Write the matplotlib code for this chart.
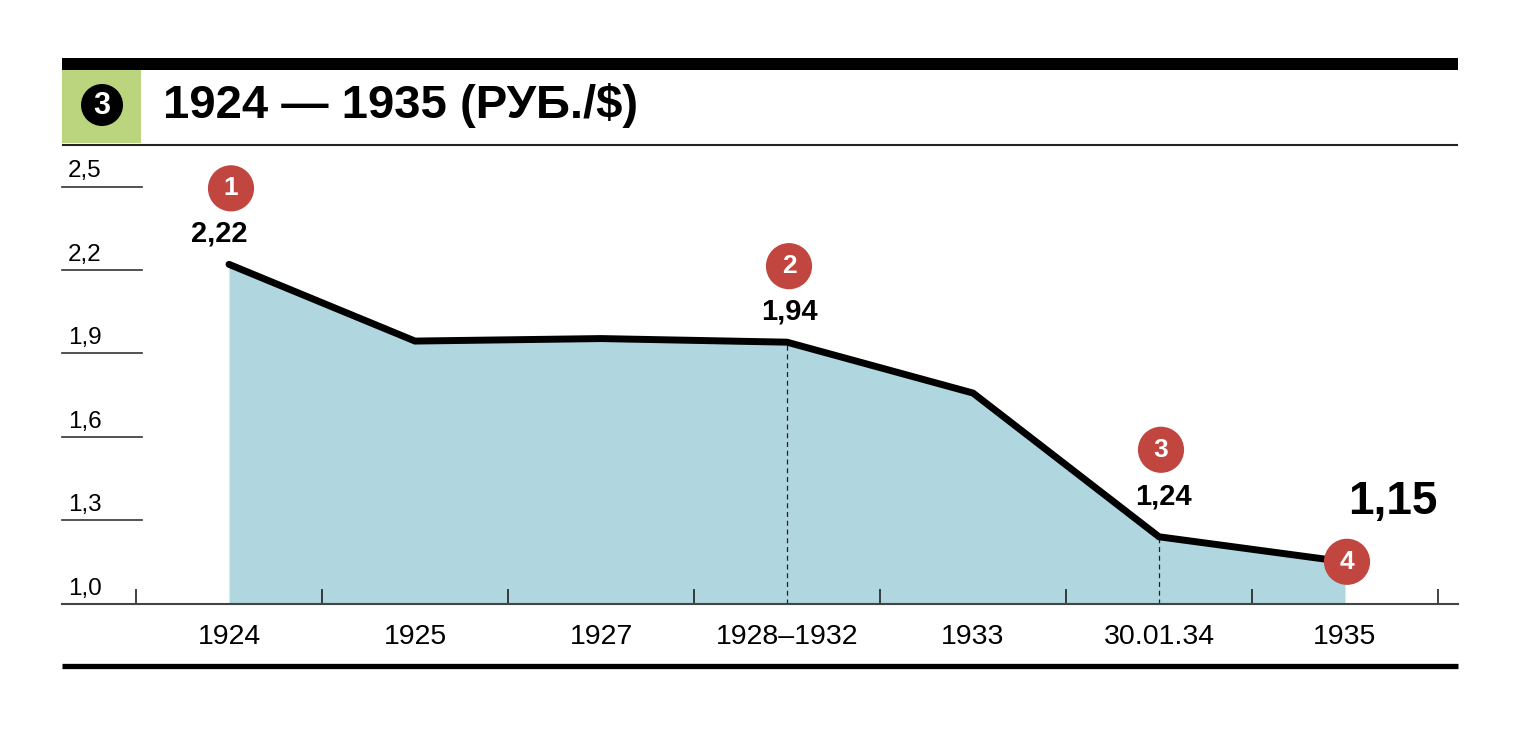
import matplotlib
matplotlib.use("Agg")
import matplotlib.pyplot as plt
from matplotlib.patches import Rectangle, Circle

# ---- data ----
categories = ["1924", "1925", "1927", "1928\u20131932", "1933", "30.01.34", "1935"]
rates = [2.22, 1.944, 1.953, 1.94, 1.757, 1.24, 1.15]
y_ticks = [1.0, 1.3, 1.6, 1.9, 2.2, 2.5]
y_tick_labels = ["1,0", "1,3", "1,6", "1,9", "2,2", "2,5"]
value_labels = {0: "2,22", 3: "1,94", 5: "1,24"}
marker_numbers = {0: "1", 3: "2", 5: "3", 6: "4"}
dashed_idx = [3, 5]
title = "1924 \u2014 1935 (\u0420\u0423\u0411./$)"
final_label = "1,15"

W, H = 1528, 755
fig = plt.figure(figsize=(W / 100, H / 100), dpi=100)
fig.patch.set_facecolor("white")
plt.rcParams["font.family"] = ["Liberation Sans", "DejaVu Sans"]

BLUE = "#b0d6e0"
RED = "#c1463f"
GREEN = "#bad57d"

# overlay axes in pixel coords for decorations
ov = fig.add_axes([0, 0, 1, 1], zorder=0)
ov.set_xlim(0, W)
ov.set_ylim(H, 0)
ov.axis("off")
ov.add_patch(Rectangle((62, 58), 1396, 12, color="black", lw=0))
ov.add_patch(Rectangle((62, 70), 79, 73, color=GREEN, lw=0))
ov.plot([62, 1458], [144.5, 144.5], color="#222222", lw=1.5, solid_capstyle="butt")
ov.plot([62, 1458], [666, 666], color="black", lw=3.8, solid_capstyle="butt")
ov.add_patch(Circle((102, 105), 21, color="black", lw=0))
ov.text(102, 106, "3", color="white", fontsize=22, fontweight="bold",
        ha="center", va="center")
ov.text(163, 106, title, fontsize=34, fontweight="bold", ha="left", va="center")

# main axes: x in category units, y in value units
px_per_cat = 186.0
x0_px = 229.0
left_px, right_px = 62, 1458
xmin = (left_px - x0_px) / px_per_cat
xmax = (right_px - x0_px) / px_per_cat
px_per_unit = 278.0
bottom_px = 603.5
top_px = 150.0
ymin = 1.0
ymax = ymin + (bottom_px - top_px) / px_per_unit

ax = fig.add_axes([left_px / W, 1 - bottom_px / H, (right_px - left_px) / W,
                   (bottom_px - top_px) / H], zorder=1)
ax.patch.set_alpha(0)
ax.set_xlim(xmin, xmax)
ax.set_ylim(ymin, ymax)
for s in ["left", "right", "top"]:
    ax.spines[s].set_visible(False)
ax.spines["bottom"].set_color("#444444")
ax.spines["bottom"].set_linewidth(1.5)

xs = list(range(len(categories)))
ax.fill_between(xs, ymin, rates, color=BLUE, lw=0, zorder=1)
ax.plot(xs, rates, color="black", lw=5, solid_joinstyle="miter",
        solid_capstyle="round", zorder=3)

for i in dashed_idx:
    ax.plot([i, i], [ymin, rates[i]], color="#222222", lw=0.9,
            ls=(0, (4, 3)), zorder=2)

# x ticks (boundaries) and category labels
ax.set_xticks([i - 0.5 for i in range(len(categories) + 1)])
ax.set_xticklabels([])
ax.tick_params(axis="x", direction="in", length=11, width=1.2, color="#222222")
ax.set_yticks([])
for i, c in enumerate(categories):
    ax.annotate(c, (i, ymin), xytext=(0, -33), textcoords="offset pixels",
                fontsize=20.5, ha="center", va="center")

# y gridlines (short) with labels
for v, lab in zip(y_ticks, y_tick_labels):
    ax.plot([0, (142 - left_px) / (right_px - left_px)], [v, v],
            transform=ax.get_yaxis_transform(), color="#333333", lw=1.2,
            clip_on=False)
    ax.annotate(lab, (0, v), xycoords=ax.get_yaxis_transform(),
                xytext=(6, 4), textcoords="offset pixels",
                fontsize=17.5, ha="left", va="bottom")

# value labels
for i, lab in value_labels.items():
    off = 40 if i == 5 else 31
    dx = 4 if i == 5 else (-10 if i == 0 else 2)
    ax.annotate(lab, (i, rates[i]), xytext=(dx, off),
                textcoords="offset pixels", fontsize=21, fontweight="bold",
                ha="center", va="center", zorder=5)

# red numbered markers
for i, num in marker_numbers.items():
    if i == 6:
        dy = 0
    elif i == 5:
        dy = 87
    else:
        dy = 76
    ax.annotate(num, (i, rates[i]), xytext=(2, dy), textcoords="offset pixels",
                fontsize=19, fontweight="bold", color="white", ha="center",
                va="center", zorder=6,
                bbox=dict(boxstyle="circle,pad=0.42", fc=RED, ec="none"))

last = len(categories) - 1
ax.annotate(final_label, (last, rates[last]), xytext=(48, 60),
            textcoords="offset pixels", fontsize=33, fontweight="bold",
            ha="center", va="center", zorder=5)

fig.savefig("out.png", dpi=100, facecolor="white")
